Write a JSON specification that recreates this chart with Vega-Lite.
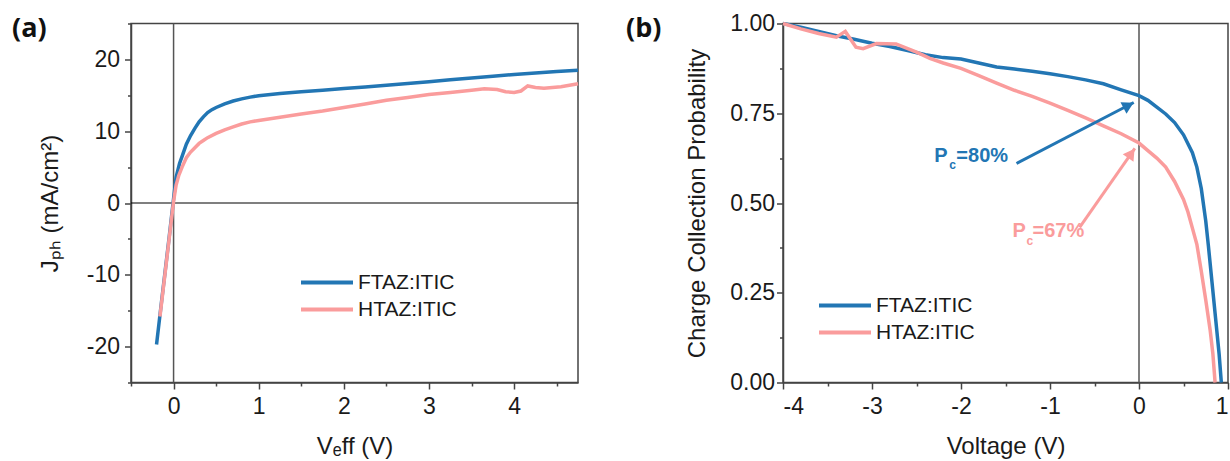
{
"$schema": "https://vega.github.io/schema/vega-lite/v6.json",
"background": "white",
"padding": {"left": 11, "top": 11.5, "right": 0, "bottom": 0},
"spacing": 39,
"config": {
  "font": "Liberation Sans",
  "view": {"stroke": "#444", "strokeWidth": 1.5},
  "axis": {"grid": false, "labelOverlap": false, "domainColor": "#444", "domainWidth": 1.5, "tickColor": "#444", "tickWidth": 1.5, "labelFont": "Liberation Sans", "labelFontSize": 23, "labelColor": "#1a1a1a", "titleFont": "Liberation Sans", "titleFontSize": 24, "titleFontWeight": "normal", "titleColor": "#1a1a1a"},
  "axisX": {"labelPadding": 6, "titlePadding": 16},
  "axisY": {"labelPadding": 2},
  "legend": {"orient": "none", "title": null, "symbolType": "stroke", "symbolSize": 2704, "symbolStrokeWidth": 4, "clipHeight": 22, "rowPadding": 5, "labelFont": "Liberation Sans", "labelFontSize": 21, "labelColor": "#1a1a1a", "labelOffset": 3, "padding": 0}
},
"datasets": {
  "jph": [
    {"V": -0.2, "J": -19.7, "series": "FTAZ:ITIC"},
    {"V": -0.15, "J": -14.6, "series": "FTAZ:ITIC"},
    {"V": -0.1, "J": -9.6, "series": "FTAZ:ITIC"},
    {"V": -0.05, "J": -4.6, "series": "FTAZ:ITIC"},
    {"V": 0.0, "J": 0.6, "series": "FTAZ:ITIC"},
    {"V": 0.03, "J": 3.6, "series": "FTAZ:ITIC"},
    {"V": 0.07, "J": 5.5, "series": "FTAZ:ITIC"},
    {"V": 0.1, "J": 6.5, "series": "FTAZ:ITIC"},
    {"V": 0.15, "J": 8.2, "series": "FTAZ:ITIC"},
    {"V": 0.2, "J": 9.4, "series": "FTAZ:ITIC"},
    {"V": 0.25, "J": 10.4, "series": "FTAZ:ITIC"},
    {"V": 0.3, "J": 11.3, "series": "FTAZ:ITIC"},
    {"V": 0.35, "J": 12.0, "series": "FTAZ:ITIC"},
    {"V": 0.4, "J": 12.6, "series": "FTAZ:ITIC"},
    {"V": 0.45, "J": 13.0, "series": "FTAZ:ITIC"},
    {"V": 0.5, "J": 13.3, "series": "FTAZ:ITIC"},
    {"V": 0.6, "J": 13.8, "series": "FTAZ:ITIC"},
    {"V": 0.7, "J": 14.2, "series": "FTAZ:ITIC"},
    {"V": 0.8, "J": 14.5, "series": "FTAZ:ITIC"},
    {"V": 0.9, "J": 14.75, "series": "FTAZ:ITIC"},
    {"V": 1.0, "J": 14.95, "series": "FTAZ:ITIC"},
    {"V": 1.25, "J": 15.25, "series": "FTAZ:ITIC"},
    {"V": 1.5, "J": 15.5, "series": "FTAZ:ITIC"},
    {"V": 1.75, "J": 15.7, "series": "FTAZ:ITIC"},
    {"V": 2.0, "J": 15.95, "series": "FTAZ:ITIC"},
    {"V": 2.25, "J": 16.15, "series": "FTAZ:ITIC"},
    {"V": 2.5, "J": 16.4, "series": "FTAZ:ITIC"},
    {"V": 2.75, "J": 16.65, "series": "FTAZ:ITIC"},
    {"V": 3.0, "J": 16.9, "series": "FTAZ:ITIC"},
    {"V": 3.25, "J": 17.15, "series": "FTAZ:ITIC"},
    {"V": 3.5, "J": 17.4, "series": "FTAZ:ITIC"},
    {"V": 3.75, "J": 17.65, "series": "FTAZ:ITIC"},
    {"V": 4.0, "J": 17.9, "series": "FTAZ:ITIC"},
    {"V": 4.25, "J": 18.1, "series": "FTAZ:ITIC"},
    {"V": 4.5, "J": 18.3, "series": "FTAZ:ITIC"},
    {"V": 4.75, "J": 18.5, "series": "FTAZ:ITIC"},
    {"V": -0.16, "J": -15.8, "series": "HTAZ:ITIC"},
    {"V": -0.12, "J": -11.8, "series": "HTAZ:ITIC"},
    {"V": -0.08, "J": -7.8, "series": "HTAZ:ITIC"},
    {"V": -0.04, "J": -3.8, "series": "HTAZ:ITIC"},
    {"V": 0.0, "J": 0.2, "series": "HTAZ:ITIC"},
    {"V": 0.03, "J": 2.5, "series": "HTAZ:ITIC"},
    {"V": 0.06, "J": 3.8, "series": "HTAZ:ITIC"},
    {"V": 0.1, "J": 5.0, "series": "HTAZ:ITIC"},
    {"V": 0.15, "J": 6.3, "series": "HTAZ:ITIC"},
    {"V": 0.2, "J": 7.1, "series": "HTAZ:ITIC"},
    {"V": 0.25, "J": 7.7, "series": "HTAZ:ITIC"},
    {"V": 0.3, "J": 8.3, "series": "HTAZ:ITIC"},
    {"V": 0.35, "J": 8.7, "series": "HTAZ:ITIC"},
    {"V": 0.4, "J": 9.1, "series": "HTAZ:ITIC"},
    {"V": 0.5, "J": 9.7, "series": "HTAZ:ITIC"},
    {"V": 0.6, "J": 10.2, "series": "HTAZ:ITIC"},
    {"V": 0.7, "J": 10.6, "series": "HTAZ:ITIC"},
    {"V": 0.8, "J": 11.0, "series": "HTAZ:ITIC"},
    {"V": 0.9, "J": 11.3, "series": "HTAZ:ITIC"},
    {"V": 1.0, "J": 11.5, "series": "HTAZ:ITIC"},
    {"V": 1.25, "J": 11.95, "series": "HTAZ:ITIC"},
    {"V": 1.5, "J": 12.4, "series": "HTAZ:ITIC"},
    {"V": 1.75, "J": 12.8, "series": "HTAZ:ITIC"},
    {"V": 2.0, "J": 13.3, "series": "HTAZ:ITIC"},
    {"V": 2.25, "J": 13.8, "series": "HTAZ:ITIC"},
    {"V": 2.5, "J": 14.3, "series": "HTAZ:ITIC"},
    {"V": 2.75, "J": 14.7, "series": "HTAZ:ITIC"},
    {"V": 3.0, "J": 15.1, "series": "HTAZ:ITIC"},
    {"V": 3.25, "J": 15.4, "series": "HTAZ:ITIC"},
    {"V": 3.5, "J": 15.7, "series": "HTAZ:ITIC"},
    {"V": 3.65, "J": 15.9, "series": "HTAZ:ITIC"},
    {"V": 3.8, "J": 15.8, "series": "HTAZ:ITIC"},
    {"V": 3.9, "J": 15.5, "series": "HTAZ:ITIC"},
    {"V": 4.0, "J": 15.4, "series": "HTAZ:ITIC"},
    {"V": 4.08, "J": 15.6, "series": "HTAZ:ITIC"},
    {"V": 4.16, "J": 16.3, "series": "HTAZ:ITIC"},
    {"V": 4.25, "J": 16.1, "series": "HTAZ:ITIC"},
    {"V": 4.35, "J": 16.0, "series": "HTAZ:ITIC"},
    {"V": 4.55, "J": 16.2, "series": "HTAZ:ITIC"},
    {"V": 4.75, "J": 16.6, "series": "HTAZ:ITIC"}
  ],
  "pc": [
    {"V": -4.0, "P": 1.0, "series": "FTAZ:ITIC"},
    {"V": -3.8, "P": 0.99, "series": "FTAZ:ITIC"},
    {"V": -3.6, "P": 0.978, "series": "FTAZ:ITIC"},
    {"V": -3.4, "P": 0.966, "series": "FTAZ:ITIC"},
    {"V": -3.2, "P": 0.956, "series": "FTAZ:ITIC"},
    {"V": -3.0, "P": 0.945, "series": "FTAZ:ITIC"},
    {"V": -2.8, "P": 0.936, "series": "FTAZ:ITIC"},
    {"V": -2.6, "P": 0.925, "series": "FTAZ:ITIC"},
    {"V": -2.4, "P": 0.913, "series": "FTAZ:ITIC"},
    {"V": -2.2, "P": 0.905, "series": "FTAZ:ITIC"},
    {"V": -2.0, "P": 0.901, "series": "FTAZ:ITIC"},
    {"V": -1.8, "P": 0.89, "series": "FTAZ:ITIC"},
    {"V": -1.6, "P": 0.879, "series": "FTAZ:ITIC"},
    {"V": -1.4, "P": 0.873, "series": "FTAZ:ITIC"},
    {"V": -1.2, "P": 0.867, "series": "FTAZ:ITIC"},
    {"V": -1.0, "P": 0.86, "series": "FTAZ:ITIC"},
    {"V": -0.8, "P": 0.852, "series": "FTAZ:ITIC"},
    {"V": -0.6, "P": 0.843, "series": "FTAZ:ITIC"},
    {"V": -0.4, "P": 0.832, "series": "FTAZ:ITIC"},
    {"V": -0.2, "P": 0.815, "series": "FTAZ:ITIC"},
    {"V": 0.0, "P": 0.799, "series": "FTAZ:ITIC"},
    {"V": 0.1, "P": 0.786, "series": "FTAZ:ITIC"},
    {"V": 0.2, "P": 0.767, "series": "FTAZ:ITIC"},
    {"V": 0.3, "P": 0.748, "series": "FTAZ:ITIC"},
    {"V": 0.4, "P": 0.724, "series": "FTAZ:ITIC"},
    {"V": 0.5, "P": 0.69, "series": "FTAZ:ITIC"},
    {"V": 0.6, "P": 0.64, "series": "FTAZ:ITIC"},
    {"V": 0.65, "P": 0.6, "series": "FTAZ:ITIC"},
    {"V": 0.7, "P": 0.54, "series": "FTAZ:ITIC"},
    {"V": 0.75, "P": 0.45, "series": "FTAZ:ITIC"},
    {"V": 0.78, "P": 0.38, "series": "FTAZ:ITIC"},
    {"V": 0.82, "P": 0.28, "series": "FTAZ:ITIC"},
    {"V": 0.86, "P": 0.18, "series": "FTAZ:ITIC"},
    {"V": 0.9, "P": 0.08, "series": "FTAZ:ITIC"},
    {"V": 0.925, "P": 0.0, "series": "FTAZ:ITIC"},
    {"V": -4.0, "P": 1.0, "series": "HTAZ:ITIC"},
    {"V": -3.8, "P": 0.985, "series": "HTAZ:ITIC"},
    {"V": -3.6, "P": 0.972, "series": "HTAZ:ITIC"},
    {"V": -3.4, "P": 0.962, "series": "HTAZ:ITIC"},
    {"V": -3.3, "P": 0.978, "series": "HTAZ:ITIC"},
    {"V": -3.18, "P": 0.934, "series": "HTAZ:ITIC"},
    {"V": -3.1, "P": 0.93, "series": "HTAZ:ITIC"},
    {"V": -2.95, "P": 0.944, "series": "HTAZ:ITIC"},
    {"V": -2.73, "P": 0.943, "series": "HTAZ:ITIC"},
    {"V": -2.5, "P": 0.92, "series": "HTAZ:ITIC"},
    {"V": -2.35, "P": 0.903, "series": "HTAZ:ITIC"},
    {"V": -2.2, "P": 0.89, "series": "HTAZ:ITIC"},
    {"V": -2.0, "P": 0.875, "series": "HTAZ:ITIC"},
    {"V": -1.8, "P": 0.855, "series": "HTAZ:ITIC"},
    {"V": -1.6, "P": 0.834, "series": "HTAZ:ITIC"},
    {"V": -1.4, "P": 0.814, "series": "HTAZ:ITIC"},
    {"V": -1.2, "P": 0.797, "series": "HTAZ:ITIC"},
    {"V": -1.0, "P": 0.778, "series": "HTAZ:ITIC"},
    {"V": -0.8, "P": 0.758, "series": "HTAZ:ITIC"},
    {"V": -0.6, "P": 0.737, "series": "HTAZ:ITIC"},
    {"V": -0.4, "P": 0.715, "series": "HTAZ:ITIC"},
    {"V": -0.2, "P": 0.693, "series": "HTAZ:ITIC"},
    {"V": 0.0, "P": 0.667, "series": "HTAZ:ITIC"},
    {"V": 0.1, "P": 0.646, "series": "HTAZ:ITIC"},
    {"V": 0.2, "P": 0.625, "series": "HTAZ:ITIC"},
    {"V": 0.3, "P": 0.6, "series": "HTAZ:ITIC"},
    {"V": 0.4, "P": 0.56, "series": "HTAZ:ITIC"},
    {"V": 0.5, "P": 0.51, "series": "HTAZ:ITIC"},
    {"V": 0.55, "P": 0.475, "series": "HTAZ:ITIC"},
    {"V": 0.6, "P": 0.43, "series": "HTAZ:ITIC"},
    {"V": 0.65, "P": 0.385, "series": "HTAZ:ITIC"},
    {"V": 0.7, "P": 0.31, "series": "HTAZ:ITIC"},
    {"V": 0.75, "P": 0.23, "series": "HTAZ:ITIC"},
    {"V": 0.8, "P": 0.145, "series": "HTAZ:ITIC"},
    {"V": 0.83, "P": 0.08, "series": "HTAZ:ITIC"},
    {"V": 0.855, "P": 0.0, "series": "HTAZ:ITIC"}
  ],
  "arrows": [
    {"x": -1.376, "y": 0.61, "x2": -0.059, "y2": 0.78, "hx": -0.118, "hy": 0.772, "series": "FTAZ:ITIC"},
    {"x": -0.667, "y": 0.432, "x2": -0.047, "y2": 0.652, "hx": -0.086, "hy": 0.638, "series": "HTAZ:ITIC"}
  ],
  "notes": [
    {"x": -2.3, "y": 0.613, "text": "P", "kind": "main", "series": "FTAZ:ITIC"},
    {"x": -2.131, "y": 0.596, "text": "c", "kind": "sub", "series": "FTAZ:ITIC"},
    {"x": -2.052, "y": 0.613, "text": "=80%", "kind": "main", "series": "FTAZ:ITIC"},
    {"x": -1.421, "y": 0.404, "text": "P", "kind": "main", "series": "HTAZ:ITIC"},
    {"x": -1.264, "y": 0.382, "text": "c", "kind": "sub", "series": "HTAZ:ITIC"},
    {"x": -1.196, "y": 0.404, "text": "=67%", "kind": "main", "series": "HTAZ:ITIC"}
  ]
},
"resolve": {"scale": {"color": "independent"}},
"hconcat": [
  {
    "width": 447, "height": 359,
    "title": {"text": "(a)", "anchor": "start", "frame": "group", "font": "Open Sans", "fontSize": 27, "fontWeight": "bold", "color": "#111", "baseline": "alphabetic", "offset": 0, "dx": -119, "dy": 51},
    "layer": [
      {
        "data": {"values": [{"origin": 0}]},
        "mark": {"type": "rule", "color": "#555", "strokeWidth": 1.5},
        "encoding": {"x": {"field": "origin", "type": "quantitative", "scale": {"domain": [-0.5, 4.75], "nice": false, "zero": false},
                "axis": {"title": "Vₑff (V)", "values": [-0.5, 0, 0.5, 1, 1.5, 2, 2.5, 3, 3.5, 4, 4.5], "labelExpr": "datum.value % 1 ? '' : '' + datum.value", "tickSize": {"condition": {"test": "datum.value % 1 !== 0", "value": 3.5}, "value": 6.5}}}}
      },
      {
        "data": {"values": [{"origin": 0}]},
        "mark": {"type": "rule", "color": "#000", "strokeWidth": 1.2},
        "encoding": {"y": {"field": "origin", "type": "quantitative", "scale": {"domain": [-25, 25], "nice": false, "zero": false},
                "axis": {"title": "Jₚₕ (mA/cm²)", "values": [-25, -20, -15, -10, -5, 0, 5, 10, 15, 20, 25], "labelExpr": "datum.value % 10 ? '' : '' + datum.value", "tickSize": {"condition": {"test": "datum.value % 10 !== 0", "value": 3.5}, "value": 6.5}, "labelPadding": 5, "titlePadding": 24}}}
      },
      {
        "data": {"name": "jph"},
        "mark": {"type": "line", "strokeWidth": 3.5},
        "encoding": {
          "x": {"field": "V", "type": "quantitative", "scale": {"domain": [-0.5, 4.75], "nice": false, "zero": false},
                "axis": {"title": "Vₑff (V)", "values": [-0.5, 0, 0.5, 1, 1.5, 2, 2.5, 3, 3.5, 4, 4.5], "labelExpr": "datum.value % 1 ? '' : '' + datum.value", "tickSize": {"condition": {"test": "datum.value % 1 !== 0", "value": 3.5}, "value": 6.5}}},
          "y": {"field": "J", "type": "quantitative", "scale": {"domain": [-25, 25], "nice": false, "zero": false},
                "axis": {"title": "Jₚₕ (mA/cm²)", "values": [-25, -20, -15, -10, -5, 0, 5, 10, 15, 20, 25], "labelExpr": "datum.value % 10 ? '' : '' + datum.value", "tickSize": {"condition": {"test": "datum.value % 10 !== 0", "value": 3.5}, "value": 6.5}, "labelPadding": 5, "titlePadding": 24}},
          "color": {"field": "series", "type": "nominal", "scale": {"domain": ["FTAZ:ITIC", "HTAZ:ITIC"], "range": ["#2276b4", "#fa9c9c"]}, "legend": {"legendX": 168, "legendY": 248}},
          "order": {"field": "V", "type": "quantitative"}
        }
      }
    ]
  },
  {
    "width": 445, "height": 359,
    "title": {"text": "(b)", "anchor": "start", "frame": "group", "font": "Open Sans", "fontSize": 27, "fontWeight": "bold", "color": "#111", "baseline": "alphabetic", "offset": 0, "dx": -157, "dy": 51},
    "layer": [
      {
        "data": {"values": [{"origin": 0}]},
        "mark": {"type": "rule", "color": "#555", "strokeWidth": 1.5},
        "encoding": {"x": {"field": "origin", "type": "quantitative", "scale": {"domain": [-4, 1], "nice": false, "zero": false},
                "axis": {"title": "Voltage (V)", "values": [-4, -3.5, -3, -2.5, -2, -1.5, -1, -0.5, 0, 0.5, 1], "labelExpr": "datum.value % 1 ? '' : '' + datum.value", "tickSize": {"condition": {"test": "datum.value % 1 !== 0", "value": 3.5}, "value": 6.5}}}}
      },
      {
        "data": {"name": "pc"},
        "mark": {"type": "line", "strokeWidth": 3.5},
        "encoding": {
          "x": {"field": "V", "type": "quantitative", "scale": {"domain": [-4, 1], "nice": false, "zero": false},
                "axis": {"title": "Voltage (V)", "values": [-4, -3.5, -3, -2.5, -2, -1.5, -1, -0.5, 0, 0.5, 1], "labelExpr": "datum.value % 1 ? '' : '' + datum.value", "tickSize": {"condition": {"test": "datum.value % 1 !== 0", "value": 3.5}, "value": 6.5}}},
          "y": {"field": "P", "type": "quantitative", "scale": {"domain": [0, 1], "nice": false, "zero": false},
                "axis": {"title": "Charge Collection Probability", "values": [0, 0.125, 0.25, 0.375, 0.5, 0.625, 0.75, 0.875, 1], "labelExpr": "datum.value % 0.25 ? '' : format(datum.value, '.2f')", "tickSize": {"condition": {"test": "datum.value % 0.25 !== 0", "value": 3.5}, "value": 6.5}, "titlePadding": 20}},
          "color": {"field": "series", "type": "nominal", "scale": {"domain": ["FTAZ:ITIC", "HTAZ:ITIC"], "range": ["#2276b4", "#fa9c9c"]}, "legend": {"legendX": 34, "legendY": 271}},
          "order": {"field": "V", "type": "quantitative"}
        }
      },
      {
        "data": {"name": "arrows"},
        "mark": {"type": "rule", "strokeWidth": 3},
        "encoding": {
          "x": {"field": "x", "type": "quantitative"},
          "y": {"field": "y", "type": "quantitative"},
          "x2": {"field": "x2"},
          "y2": {"field": "y2"},
          "color": {"field": "series", "type": "nominal", "legend": null}
        }
      },
      {
        "data": {"name": "arrows"},
        "transform": [{"filter": "datum.series === 'FTAZ:ITIC'"}],
        "mark": {"type": "point", "shape": "triangle-up", "filled": true, "opacity": 1, "size": 170, "angle": 62.5},
        "encoding": {
          "x": {"field": "hx", "type": "quantitative"},
          "y": {"field": "hy", "type": "quantitative"},
          "color": {"field": "series", "type": "nominal", "legend": null}
        }
      },
      {
        "data": {"name": "arrows"},
        "transform": [{"filter": "datum.series === 'HTAZ:ITIC'"}],
        "mark": {"type": "point", "shape": "triangle-up", "filled": true, "opacity": 1, "size": 170, "angle": 34.8},
        "encoding": {
          "x": {"field": "hx", "type": "quantitative"},
          "y": {"field": "hy", "type": "quantitative"},
          "color": {"field": "series", "type": "nominal", "legend": null}
        }
      },
      {
        "data": {"name": "notes"},
        "transform": [{"filter": "datum.kind === 'main'"}],
        "mark": {"type": "text", "align": "left", "baseline": "alphabetic", "font": "Liberation Sans", "fontSize": 20, "fontWeight": "bold"},
        "encoding": {
          "x": {"field": "x", "type": "quantitative"},
          "y": {"field": "y", "type": "quantitative"},
          "text": {"field": "text"},
          "color": {"field": "series", "type": "nominal", "legend": null}
        }
      },
      {
        "data": {"name": "notes"},
        "transform": [{"filter": "datum.kind === 'sub'"}],
        "mark": {"type": "text", "align": "left", "baseline": "alphabetic", "font": "Liberation Sans", "fontSize": 12, "fontWeight": "bold"},
        "encoding": {
          "x": {"field": "x", "type": "quantitative"},
          "y": {"field": "y", "type": "quantitative"},
          "text": {"field": "text"},
          "color": {"field": "series", "type": "nominal", "legend": null}
        }
      }
    ]
  }
]
}
